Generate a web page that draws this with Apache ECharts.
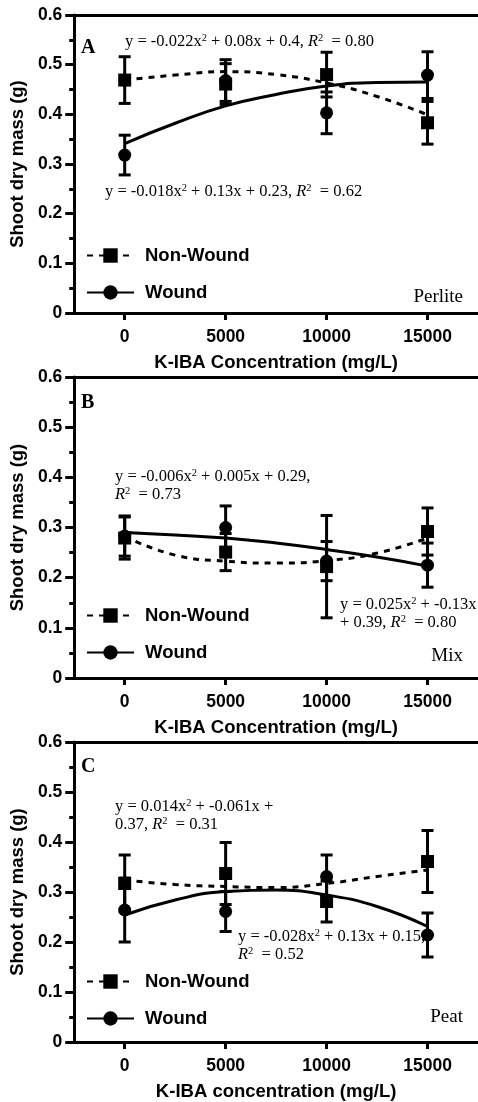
<!DOCTYPE html>
<html><head><meta charset="utf-8">
<script src="https://cdn.jsdelivr.net/npm/echarts@6/dist/echarts.min.js"></script>
<style>html,body{margin:0;padding:0;background:#fff}#c{width:478px;height:1102px}</style>
</head><body><div id="c"></div>
<script>
// Data
const xs = [0, 5000, 10000, 15000];
const fitX = [0, 2500, 5000, 7500, 10000, 12500, 15000];
const xTicks = [0, 5000, 10000, 15000];
const panelNames = ['Perlite', 'Mix', 'Peat'];
const panelLetters = ['A', 'B', 'C'];
const xTitles = ['K-IBA Concentration (mg/L)', 'K-IBA Concentration (mg/L)', 'K-IBA concentration (mg/L)'];

const nwA = [0.469, 0.461, 0.480, 0.383];
const nwErrA = [0.047, 0.041, 0.045, 0.043];
const wA = [0.318, 0.468, 0.403, 0.479];
const wErrA = [0.040, 0.042, 0.042, 0.047];
const nwFitA = [0.469, 0.479, 0.486, 0.480, 0.463, 0.436, 0.399];
const wFitA = [0.341, 0.382, 0.417, 0.440, 0.457, 0.464, 0.465];

const nwB = [0.279, 0.251, 0.222, 0.292];
const nwErrB = [0.042, 0.037, 0.102, 0.047];
const wB = [0.283, 0.300, 0.233, 0.225];
const wErrB = [0.040, 0.043, 0.039, 0.044];
const nwFitB = [0.282, 0.245, 0.233, 0.229, 0.234, 0.249, 0.279];
const wFitB = [0.290, 0.285, 0.279, 0.269, 0.256, 0.241, 0.223];

const nwC = [0.317, 0.337, 0.281, 0.361];
const nwErrC = [0.057, 0.062, 0.041, 0.062];
const wC = [0.264, 0.261, 0.331, 0.214];
const wErrC = [0.064, 0.040, 0.043, 0.044];
const nwFitC = [0.324, 0.315, 0.311, 0.309, 0.317, 0.331, 0.344];
const wFitC = [0.254, 0.284, 0.301, 0.304, 0.294, 0.271, 0.231];

const panels = [
  {nw: nwA, nwErr: nwErrA, w: wA, wErr: wErrA, nwFit: nwFitA, wFit: wFitA},
  {nw: nwB, nwErr: nwErrB, w: wB, wErr: wErrB, nwFit: nwFitB, wFit: wFitB},
  {nw: nwC, nwErr: nwErrC, w: wC, wErr: wErrC, nwFit: nwFitC, wFit: wFitC}
];

const SANS = 'Liberation Sans, Arial, sans-serif';
const SERIF = 'Liberation Serif, Times New Roman, serif';
const gridTops = [15, 377, 742];
const gridHeights = [298, 301, 300];
const legendTops = [246, 606, 972];

const grid = [], xAxis = [], yAxis = [], series = [], legend = [];
panels.forEach((p, i) => {
  grid.push({left: 72, right: -4, top: gridTops[i], height: gridHeights[i]});
  xAxis.push({
    type: 'value', gridIndex: i, min: -2500, max: 17500,
    name: xTitles[i], nameLocation: 'middle', nameGap: 40,
    nameTextStyle: {fontFamily: SANS, fontWeight: 'bold', fontSize: 18.5, color: '#000'},
    axisLine: {onZero: false, lineStyle: {color: '#000', width: 3}},
    axisTick: {show: true, inside: false, length: 7, lineStyle: {width: 3, color: '#000'}, customValues: xTicks},
    axisLabel: {margin: 15, fontFamily: SANS, fontWeight: 'bold', fontSize: 17.5, color: '#000', customValues: xTicks,
      formatter: v => String(v)},
    splitLine: {show: false}
  });
  yAxis.push({
    type: 'value', gridIndex: i, min: 0, max: 0.6, interval: 0.1,
    name: 'Shoot dry mass (g)', nameLocation: 'middle', nameGap: 42, nameRotate: 90,
    nameTextStyle: {fontFamily: SANS, fontWeight: 'bold', fontSize: 18.5, color: '#000'},
    axisLine: {show: true, onZero: false, lineStyle: {color: '#000', width: 3}},
    axisTick: {show: true, inside: false, length: 9, lineStyle: {width: 3, color: '#000'}},
    minorTick: {show: true, splitNumber: 2, length: 5, lineStyle: {width: 3, color: '#000'}},
    axisLabel: {margin: 12, fontFamily: SANS, fontWeight: 'bold', fontSize: 17.5, color: '#000',
      formatter: v => v === 0 ? '0' : v.toFixed(1)},
    splitLine: {show: false}
  });
  const fitNW = fitX.map((x, k) => [x, p.nwFit[k]]);
  const fitW = fitX.map((x, k) => [x, p.wFit[k]]);
  series.push({
    type: 'line', name: 'Non-Wound', xAxisIndex: i, yAxisIndex: i, data: fitNW, smooth: true,
    showSymbol: false, symbol: 'rect', symbolSize: 14, z: 3,
    lineStyle: {color: '#000', width: 3, type: [6, 6]}, itemStyle: {color: '#000'}
  });
  series.push({
    type: 'line', name: 'Wound', xAxisIndex: i, yAxisIndex: i, data: fitW, smooth: true,
    showSymbol: false, symbol: 'circle', symbolSize: 14, z: 3,
    lineStyle: {color: '#000', width: 3}, itemStyle: {color: '#000'}
  });
  const errRender = (params, api) => {
    const x = api.value(0), m = api.value(1), e = api.value(2);
    const top = api.coord([x, m + e]);
    const bot = api.coord([x, m - e]);
    const hw = 6;
    const st = {stroke: '#000', lineWidth: 3};
    return {type: 'group', children: [
      {type: 'line', shape: {x1: top[0], y1: top[1], x2: bot[0], y2: bot[1]}, style: st},
      {type: 'line', shape: {x1: top[0] - hw, y1: top[1], x2: top[0] + hw, y2: top[1]}, style: st},
      {type: 'line', shape: {x1: bot[0] - hw, y1: bot[1], x2: bot[0] + hw, y2: bot[1]}, style: st}
    ]};
  };
  series.push({type: 'custom', name: 'nw-err', xAxisIndex: i, yAxisIndex: i, z: 2,
    renderItem: errRender, data: xs.map((x, k) => [x, p.nw[k], p.nwErr[k]])});
  series.push({type: 'custom', name: 'w-err', xAxisIndex: i, yAxisIndex: i, z: 2,
    renderItem: errRender, data: xs.map((x, k) => [x, p.w[k], p.wErr[k]])});
  series.push({type: 'scatter', name: 'nw-pts', xAxisIndex: i, yAxisIndex: i, z: 4,
    symbol: 'rect', symbolSize: 13, itemStyle: {color: '#000', opacity: 1},
    data: xs.map((x, k) => [x, p.nw[k]])});
  series.push({type: 'scatter', name: 'w-pts', xAxisIndex: i, yAxisIndex: i, z: 4,
    symbol: 'circle', symbolSize: 13, itemStyle: {color: '#000', opacity: 1},
    data: xs.map((x, k) => [x, p.w[k]])});
  legend.push({
    data: ['Non-Wound', 'Wound'], orient: 'vertical', left: 86, top: legendTops[i], padding: 0,
    itemWidth: 47, itemHeight: 18, itemGap: 18, selectedMode: false,
    textStyle: {fontFamily: SANS, fontWeight: 'bold', fontSize: 18.5, color: '#000', padding: [0, 0, 0, 6]}
  });
});
// top frame lines
for (let i = 0; i < 3; i++) {
  xAxis.push({type: 'value', gridIndex: i, position: 'top', min: -2500, max: 17500,
    axisLine: {onZero: false, lineStyle: {color: '#000', width: 3}},
    axisTick: {show: false}, axisLabel: {show: false}, splitLine: {show: false}});
}

const rich = {
  n: {fontFamily: SERIF, fontSize: 16.5, color: '#000', lineHeight: 18},
  i: {fontFamily: SERIF, fontSize: 16.5, fontStyle: 'italic', color: '#000', lineHeight: 18},
  s: {fontFamily: SERIF, fontSize: 10.5, color: '#000', verticalAlign: 'top', lineHeight: 18}
};
function txt(left, top, text) {
  return {type: 'text', left: left, top: top, z: 10,
    style: {text: text, rich: rich, fill: '#000', font: '16.5px ' + SERIF}};
}
const graphic = [
  txt(125, 33, '{n|y = -0.022x}{s|2}{n| + 0.08x + 0.4, }{i|R}{s|2}{n|  = 0.80}'),
  txt(105, 183, '{n|y = -0.018x}{s|2}{n| + 0.13x + 0.23, }{i|R}{s|2}{n|  = 0.62}'),
  txt(115, 468, '{n|y = -0.006x}{s|2}{n| + 0.005x + 0.29,}\n{i|R}{s|2}{n|  = 0.73}'),
  txt(340, 596, '{n|y = 0.025x}{s|2}{n| + -0.13x}\n{n|+ 0.39, }{i|R}{s|2}{n|  = 0.80}'),
  txt(115, 798, '{n|y = 0.014x}{s|2}{n| + -0.061x +}\n{n|0.37, }{i|R}{s|2}{n|  = 0.31}'),
  txt(238, 928, '{n|y = -0.028x}{s|2}{n| + 0.13x + 0.15,}\n{i|R}{s|2}{n|  = 0.52}')
];
[[38, 'A'], [393, 'B'], [757, 'C']].forEach((d, k) => {
  graphic.push({type: 'text', left: 81, top: d[0], z: 10,
    style: {text: panelLetters[k], fill: '#000', font: 'bold 20px ' + SERIF}});
});
[288, 647, 1008].forEach((t, k) => {
  graphic.push({type: 'text', right: 15, top: t, z: 10,
    style: {text: panelNames[k], fill: '#000', font: '19px ' + SERIF}});
});

const chart = echarts.init(document.getElementById('c'), null, {renderer: 'canvas'});
chart.setOption({
  animation: false, backgroundColor: '#fff',
  grid, xAxis, yAxis, series, legend, graphic
});
</script></body></html>
